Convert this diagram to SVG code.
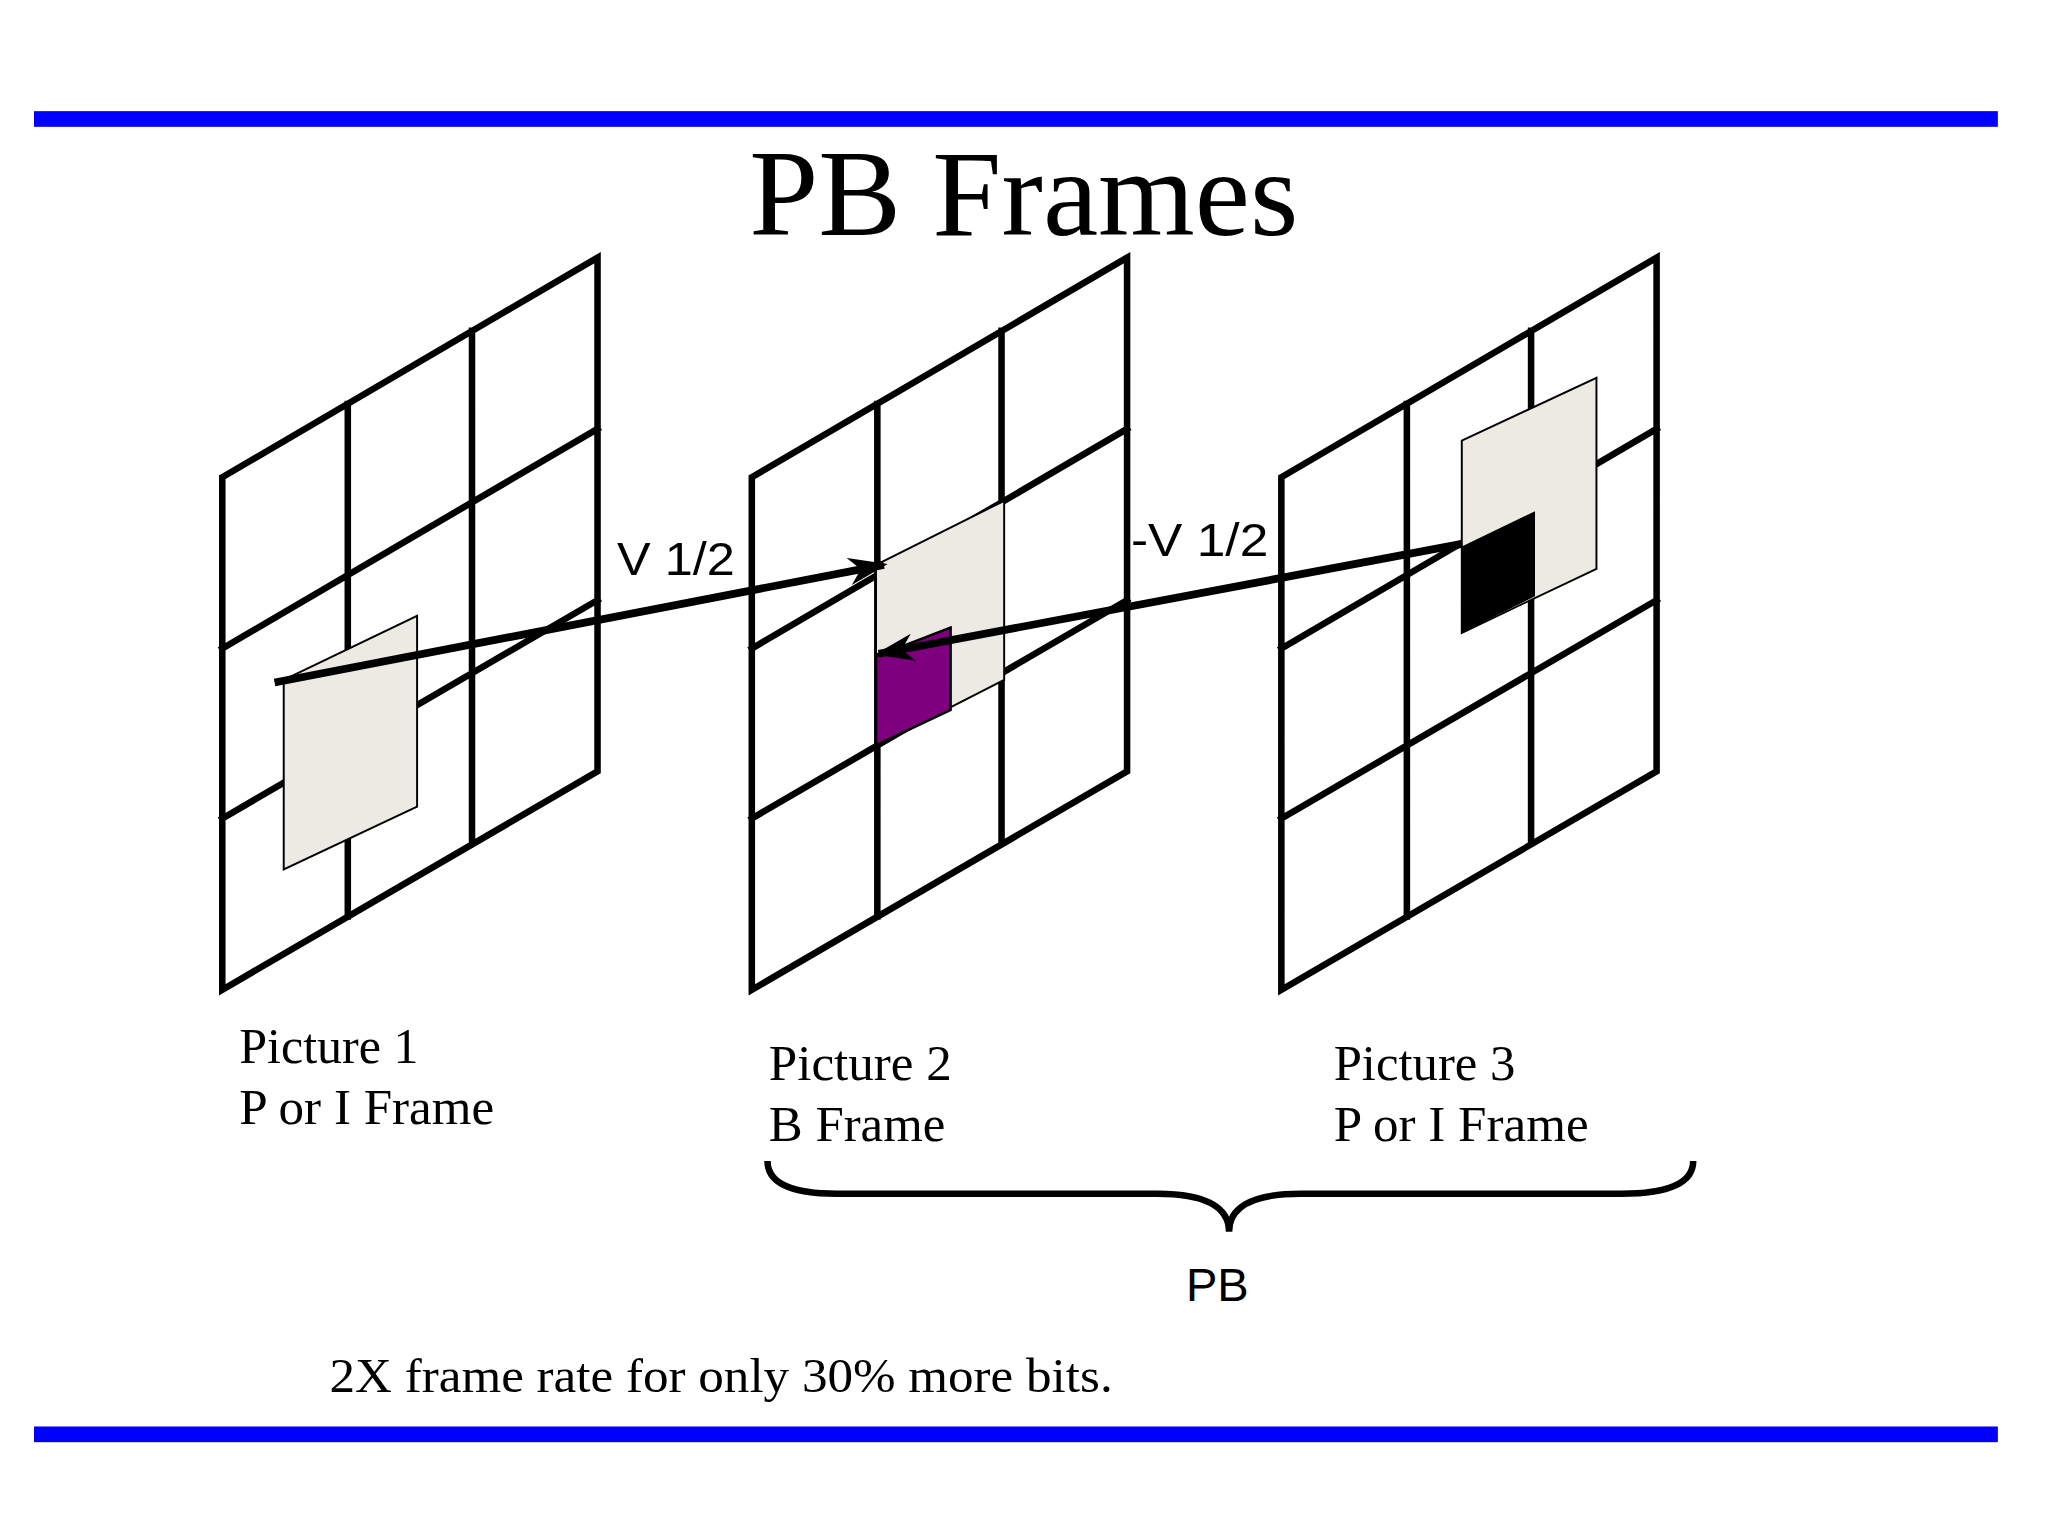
<svg xmlns="http://www.w3.org/2000/svg" width="2048" height="1536" viewBox="0 0 2048 1536">
<style>
.g{fill:none;stroke:#000;stroke-width:5;stroke-linecap:square}
.pt{fill:#ECEAE2;stroke:#000;stroke-width:1.5}
.ser{font-family:"Liberation Serif",serif;fill:#000}
.san{font-family:"Liberation Sans",sans-serif;fill:#000}
.ar{fill:none;stroke:#000;stroke-width:6}
</style>
<defs>
<marker id="ah" viewBox="0 0 20 14" refX="18" refY="7" markerWidth="5" markerHeight="3.5" orient="auto" markerUnits="strokeWidth">
<path d="M0,0 L20,7 L0,14 L6,7 Z" fill="#000"/>
</marker>
<g id="grid">
<path class="g" d="M170,365 L457,197 L457,590 L170,757 Z M266,309 L266,701 M361,253 L361,645 M170,496 L457,328 M170,626 L457,459"/>
</g>
</defs>
<rect width="2048" height="1536" fill="#fff"/>
<g transform="scale(1.3075)">
<rect x="26" y="85" width="1502" height="12" fill="#0000FF"/>
<rect x="26" y="1091" width="1502" height="12" fill="#0000FF"/>
<text class="ser" x="783" y="180" font-size="94" text-anchor="middle" textLength="420" lengthAdjust="spacingAndGlyphs">PB Frames</text>
<g id="picture1">
<use href="#grid"/>
<path class="pt" d="M217,520 L319,471 L319,617 L217,665 Z"/>
<text class="ser" x="183" y="813" font-size="38" textLength="137" lengthAdjust="spacingAndGlyphs">Picture 1</text>
<text class="ser" x="183" y="860" font-size="38" textLength="195" lengthAdjust="spacingAndGlyphs">P or I Frame</text>
</g>
<g id="picture2">
<use href="#grid" x="405"/>
<path class="pt" d="M670,432 L768,383 L768,520 L670,570 Z"/>
<path d="M670,502 L727,480 L727,543 L670,570 Z" fill="#7F007F" stroke="#000" stroke-width="2"/>
<text class="ser" x="588" y="826" font-size="38" textLength="140" lengthAdjust="spacingAndGlyphs">Picture 2</text>
<text class="ser" x="588" y="873" font-size="38" textLength="135" lengthAdjust="spacingAndGlyphs">B Frame</text>
</g>
<g id="picture3">
<use href="#grid" x="810"/>
<path class="pt" d="M1118,337 L1221,289 L1221,435 L1118,484 Z"/>
<path d="M1118,418 L1174,391 L1174,456 L1118,484 Z" fill="#000"/>
<text class="ser" x="1020" y="826" font-size="38" textLength="139" lengthAdjust="spacingAndGlyphs">Picture 3</text>
<text class="ser" x="1020" y="873" font-size="38" textLength="195" lengthAdjust="spacingAndGlyphs">P or I Frame</text>
</g>
<g id="connectors">
<line class="ar" x1="210" y1="522" x2="676" y2="432" marker-end="url(#ah)"/>
<line class="ar" x1="1118" y1="416" x2="672" y2="500" marker-end="url(#ah)"/>
<text class="san" x="472" y="440" font-size="36" textLength="90" lengthAdjust="spacingAndGlyphs">V 1/2</text>
<text class="san" x="865" y="425" font-size="36" textLength="105" lengthAdjust="spacingAndGlyphs">-V 1/2</text>
</g>
<g id="brace">
<path d="M587,888 C587,905 605,913 640,913 L885,913 C925,913 940,925 940,942 C940,925 955,913 995,913 L1240,913 C1275,913 1295,905 1295,888" fill="none" stroke="#000" stroke-width="5"/>
<text class="san" x="931" y="995" font-size="36" text-anchor="middle">PB</text>
</g>
<text class="ser" x="252" y="1065" font-size="37" textLength="599" lengthAdjust="spacingAndGlyphs">2X frame rate for only 30% more bits.</text>
</g>
</svg>
